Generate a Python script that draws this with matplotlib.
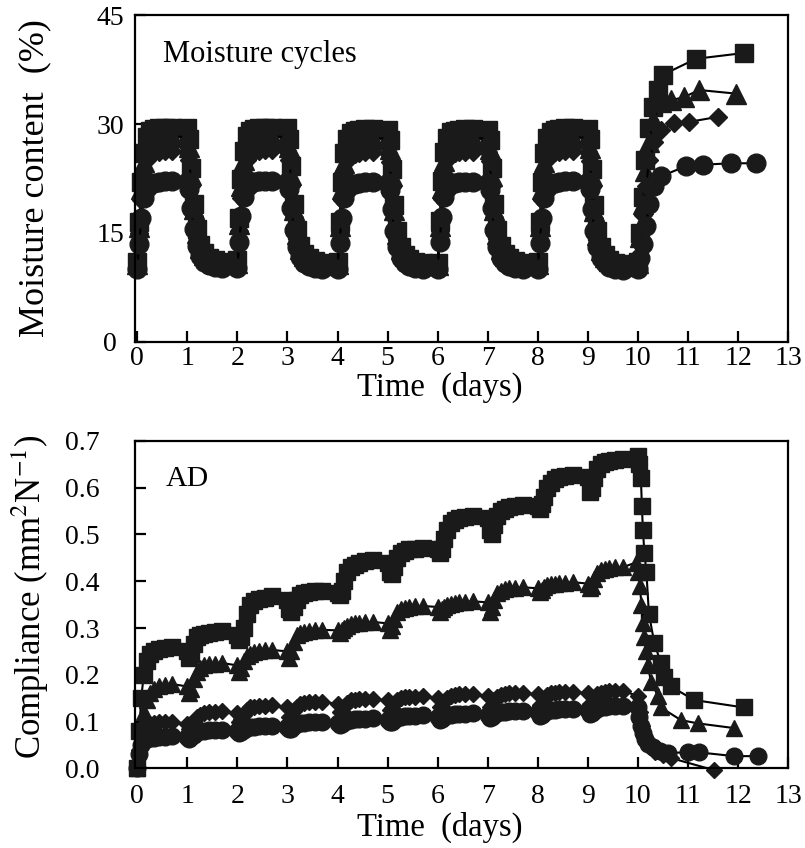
import numpy as np
import matplotlib
matplotlib.use("Agg")
import matplotlib.pyplot as plt
from matplotlib.ticker import FormatStrFormatter

plt.rcParams['font.family'] = ['Liberation Serif', 'DejaVu Serif']
plt.rcParams['mathtext.fontset'] = 'stix'

# ---- data ----------------------------------------------------------------
# sampling offsets inside each day (days 0..9), same for every series
day_offsets = [0.00, 0.04, 0.08, 0.13, 0.19, 0.26, 0.34, 0.43, 0.55, 0.70]
days = [0, 1, 2, 3, 4, 5, 6, 7, 8, 9]

# moisture content (%) per day, one row per day
mc_square = [
    [11.0, 16.5, 22.0, 26.0, 28.2, 29.0, 29.3, 29.4, 29.5, 29.5],
    [29.4, 28.0, 24.0, 19.0, 15.5, 13.3, 12.2, 11.6, 11.2, 11.0],
    [11.2, 17.0, 22.5, 26.3, 28.4, 29.1, 29.3, 29.4, 29.5, 29.5],
    [29.4, 28.0, 24.2, 19.0, 15.4, 13.2, 12.1, 11.5, 11.1, 10.9],
    [11.0, 16.5, 22.0, 26.0, 28.0, 28.8, 29.1, 29.2, 29.3, 29.3],
    [29.2, 27.8, 23.8, 18.8, 15.3, 13.1, 12.0, 11.4, 11.0, 10.8],
    [10.9, 16.6, 22.2, 26.1, 28.1, 28.9, 29.1, 29.2, 29.3, 29.3],
    [29.2, 27.8, 24.0, 19.0, 15.4, 13.2, 12.1, 11.5, 11.1, 10.9],
    [11.0, 16.5, 22.0, 26.0, 28.1, 28.9, 29.2, 29.3, 29.4, 29.4],
    [29.3, 27.9, 23.8, 18.8, 15.2, 13.0, 11.9, 11.3, 10.9, 10.7],
]
mc_triangle = [
    [10.7, 15.8, 21.0, 24.8, 26.9, 27.7, 28.0, 28.2, 28.3, 28.3],
    [28.2, 26.8, 23.0, 18.3, 15.0, 12.9, 11.9, 11.3, 10.9, 10.7],
    [10.9, 16.2, 21.4, 25.1, 27.1, 27.8, 28.1, 28.2, 28.3, 28.3],
    [28.2, 26.8, 23.0, 18.2, 14.9, 12.8, 11.8, 11.2, 10.8, 10.6],
    [10.7, 15.9, 21.0, 24.7, 26.8, 27.6, 27.9, 28.0, 28.1, 28.1],
    [28.0, 26.6, 22.8, 18.1, 14.8, 12.8, 11.8, 11.2, 10.8, 10.6],
    [10.6, 16.0, 21.2, 24.9, 26.9, 27.7, 27.9, 28.0, 28.1, 28.1],
    [28.0, 26.6, 22.9, 18.2, 14.9, 12.8, 11.8, 11.2, 10.8, 10.6],
    [10.7, 15.9, 21.0, 24.8, 26.9, 27.7, 28.0, 28.1, 28.2, 28.2],
    [28.1, 26.7, 22.8, 18.0, 14.7, 12.7, 11.7, 11.1, 10.7, 10.5],
]
mc_diamond = [
    [10.4, 15.0, 19.5, 23.0, 25.0, 25.8, 26.1, 26.2, 26.3, 26.3],
    [26.2, 25.0, 21.5, 17.3, 14.3, 12.4, 11.5, 11.0, 10.7, 10.5],
    [10.6, 15.3, 19.8, 23.2, 25.1, 25.9, 26.2, 26.3, 26.4, 26.4],
    [26.3, 25.0, 21.5, 17.2, 14.2, 12.3, 11.4, 10.9, 10.6, 10.4],
    [10.5, 15.1, 19.6, 23.0, 24.9, 25.7, 25.9, 26.0, 26.1, 26.1],
    [26.0, 24.8, 21.3, 17.1, 14.1, 12.3, 11.4, 10.9, 10.6, 10.4],
    [10.4, 15.2, 19.7, 23.1, 25.0, 25.8, 26.0, 26.1, 26.2, 26.2],
    [26.1, 24.9, 21.4, 17.2, 14.2, 12.3, 11.4, 10.9, 10.6, 10.4],
    [10.5, 15.1, 19.6, 23.0, 25.0, 25.8, 26.1, 26.2, 26.3, 26.3],
    [26.2, 24.9, 21.3, 17.0, 14.0, 12.2, 11.3, 10.8, 10.5, 10.3],
]
mc_circle = [
    [10.0, 13.5, 17.0, 19.8, 21.2, 21.7, 21.9, 22.0, 22.1, 22.1],
    [22.0, 21.0, 18.5, 15.5, 13.2, 11.8, 11.0, 10.6, 10.3, 10.1],
    [10.1, 13.8, 17.3, 20.0, 21.3, 21.8, 22.0, 22.1, 22.1, 22.1],
    [22.0, 21.0, 18.4, 15.4, 13.1, 11.7, 10.9, 10.5, 10.2, 10.0],
    [10.0, 13.6, 17.1, 19.8, 21.1, 21.6, 21.8, 21.9, 22.0, 22.0],
    [21.9, 20.9, 18.3, 15.3, 13.0, 11.6, 10.8, 10.4, 10.1, 10.0],
    [10.0, 13.7, 17.2, 19.9, 21.2, 21.7, 21.9, 22.0, 22.0, 22.0],
    [21.9, 20.9, 18.4, 15.4, 13.1, 11.6, 10.9, 10.4, 10.1, 10.0],
    [10.0, 13.6, 17.1, 19.8, 21.2, 21.7, 21.9, 22.0, 22.1, 22.1],
    [22.0, 21.0, 18.3, 15.3, 13.0, 11.6, 10.8, 10.3, 10.0, 9.9],
]

# last wetting (t >= 10): irregular sampling, per series
mc_tail_t_square = [10.00, 10.05, 10.10, 10.15, 10.22, 10.30, 10.40, 10.50, 11.16, 12.12]
mc_tail_square = [11.0, 15.0, 20.0, 25.0, 29.5, 32.3, 34.7, 36.8, 39.0, 39.8]
mc_tail_t_triangle = [10.00, 10.05, 10.10, 10.15, 10.22, 10.30, 10.46, 10.66, 10.92, 11.22, 11.96]
mc_tail_triangle = [10.8, 14.5, 19.0, 23.5, 27.5, 30.5, 33.0, 33.3, 33.7, 34.7, 34.2]
mc_tail_t_diamond = [10.00, 10.05, 10.10, 10.16, 10.23, 10.32, 10.46, 10.72, 11.02, 11.60]
mc_tail_diamond = [10.6, 13.5, 17.5, 21.5, 25.0, 27.5, 29.2, 30.1, 30.3, 31.0]
mc_tail_t_circle = [10.00, 10.05, 10.10, 10.16, 10.23, 10.32, 10.46, 10.96, 11.30, 11.86, 12.36]
mc_tail_circle = [10.0, 11.5, 13.5, 16.0, 19.0, 21.5, 22.8, 24.2, 24.4, 24.6, 24.6]

# compliance (mm2/N) per day
cp_square = [
    [0.000, 0.080, 0.150, 0.200, 0.230, 0.245, 0.250, 0.255, 0.258, 0.260],
    [0.250, 0.235, 0.245, 0.265, 0.280, 0.285, 0.288, 0.290, 0.292, 0.293],
    [0.285, 0.275, 0.280, 0.300, 0.330, 0.350, 0.358, 0.362, 0.365, 0.368],
    [0.360, 0.340, 0.335, 0.345, 0.360, 0.370, 0.375, 0.378, 0.380, 0.380],
    [0.375, 0.370, 0.380, 0.400, 0.420, 0.430, 0.435, 0.440, 0.443, 0.445],
    [0.440, 0.420, 0.415, 0.430, 0.450, 0.460, 0.465, 0.468, 0.470, 0.472],
    [0.470, 0.460, 0.470, 0.490, 0.510, 0.525, 0.530, 0.535, 0.537, 0.540],
    [0.535, 0.510, 0.500, 0.520, 0.540, 0.550, 0.555, 0.558, 0.560, 0.562],
    [0.560, 0.555, 0.565, 0.580, 0.600, 0.610, 0.618, 0.622, 0.625, 0.627],
    [0.622, 0.590, 0.600, 0.620, 0.640, 0.650, 0.655, 0.658, 0.660, 0.662],
]
cp_triangle = [
    [0.000, 0.050, 0.090, 0.120, 0.145, 0.160, 0.170, 0.175, 0.178, 0.180],
    [0.175, 0.160, 0.170, 0.190, 0.205, 0.215, 0.220, 0.222, 0.224, 0.225],
    [0.220, 0.205, 0.215, 0.230, 0.240, 0.245, 0.248, 0.250, 0.252, 0.253],
    [0.250, 0.235, 0.250, 0.270, 0.285, 0.290, 0.292, 0.294, 0.295, 0.296],
    [0.295, 0.290, 0.295, 0.300, 0.305, 0.308, 0.310, 0.310, 0.312, 0.313],
    [0.310, 0.295, 0.305, 0.320, 0.335, 0.340, 0.343, 0.345, 0.346, 0.347],
    [0.345, 0.335, 0.340, 0.345, 0.350, 0.352, 0.354, 0.355, 0.356, 0.357],
    [0.355, 0.335, 0.345, 0.360, 0.375, 0.380, 0.383, 0.385, 0.386, 0.387],
    [0.385, 0.378, 0.382, 0.388, 0.392, 0.394, 0.395, 0.396, 0.397, 0.398],
    [0.395, 0.385, 0.390, 0.405, 0.418, 0.424, 0.427, 0.429, 0.430, 0.430],
]
cp_diamond = [
    [0.000, 0.040, 0.070, 0.085, 0.092, 0.095, 0.097, 0.098, 0.099, 0.100],
    [0.095, 0.085, 0.090, 0.100, 0.110, 0.115, 0.118, 0.120, 0.121, 0.122],
    [0.118, 0.100, 0.105, 0.115, 0.125, 0.130, 0.132, 0.133, 0.134, 0.135],
    [0.130, 0.110, 0.112, 0.122, 0.132, 0.138, 0.140, 0.141, 0.142, 0.142],
    [0.138, 0.120, 0.122, 0.132, 0.140, 0.145, 0.147, 0.148, 0.148, 0.149],
    [0.145, 0.125, 0.128, 0.138, 0.146, 0.150, 0.152, 0.153, 0.153, 0.154],
    [0.150, 0.130, 0.132, 0.142, 0.150, 0.155, 0.157, 0.158, 0.158, 0.159],
    [0.155, 0.132, 0.135, 0.145, 0.153, 0.157, 0.159, 0.160, 0.160, 0.161],
    [0.158, 0.135, 0.138, 0.148, 0.156, 0.160, 0.162, 0.163, 0.163, 0.164],
    [0.160, 0.138, 0.140, 0.150, 0.158, 0.162, 0.164, 0.165, 0.165, 0.165],
]
cp_circle = [
    [0.000, 0.030, 0.050, 0.058, 0.062, 0.064, 0.065, 0.066, 0.067, 0.068],
    [0.066, 0.062, 0.066, 0.072, 0.077, 0.079, 0.080, 0.081, 0.081, 0.082],
    [0.080, 0.075, 0.077, 0.082, 0.086, 0.088, 0.089, 0.090, 0.090, 0.091],
    [0.089, 0.083, 0.085, 0.090, 0.094, 0.096, 0.097, 0.098, 0.098, 0.099],
    [0.097, 0.092, 0.094, 0.098, 0.102, 0.104, 0.105, 0.106, 0.106, 0.107],
    [0.104, 0.098, 0.100, 0.104, 0.108, 0.110, 0.111, 0.112, 0.112, 0.113],
    [0.110, 0.103, 0.105, 0.109, 0.113, 0.115, 0.116, 0.117, 0.117, 0.118],
    [0.115, 0.108, 0.110, 0.114, 0.118, 0.120, 0.121, 0.122, 0.122, 0.123],
    [0.120, 0.112, 0.114, 0.118, 0.122, 0.124, 0.125, 0.126, 0.126, 0.127],
    [0.124, 0.116, 0.118, 0.122, 0.127, 0.130, 0.132, 0.133, 0.134, 0.134],
]

cp_tail_t_square = [10.00, 10.03, 10.06, 10.08, 10.10, 10.13, 10.17, 10.22, 10.33, 10.46, 10.52, 10.66, 11.12, 12.12]
cp_tail_square = [0.668, 0.650, 0.620, 0.560, 0.510, 0.460, 0.420, 0.330, 0.267, 0.225, 0.195, 0.175, 0.146, 0.130]
cp_tail_t_triangle = [9.96, 10.00, 10.04, 10.07, 10.10, 10.13, 10.16, 10.20, 10.26, 10.40, 10.46, 10.86, 11.20, 11.92]
cp_tail_triangle = [0.440, 0.420, 0.390, 0.350, 0.310, 0.280, 0.250, 0.220, 0.185, 0.155, 0.130, 0.103, 0.096, 0.086]
cp_tail_t_diamond = [10.00, 10.04, 10.08, 10.12, 10.17, 10.25, 10.35, 10.50, 10.66, 11.52]
cp_tail_diamond = [0.155, 0.120, 0.090, 0.070, 0.055, 0.045, 0.035, 0.028, 0.022, -0.004]
cp_tail_t_circle = [10.00, 10.03, 10.06, 10.10, 10.15, 10.20, 10.30, 10.45, 10.60, 11.00, 11.22, 11.92, 12.40]
cp_tail_circle = [0.130, 0.110, 0.090, 0.075, 0.062, 0.053, 0.045, 0.038, 0.033, 0.034, 0.034, 0.026, 0.026]


def series(rows, tail_t, tail_v):
    t = [d + o for d in days for o in day_offsets] + list(tail_t)
    v = [x for row in rows for x in row] + list(tail_v)
    return np.array(t), np.array(v)


def style_axes(ax, xpad, ypad):
    for s in ax.spines.values():
        s.set_linewidth(1.6)
    ax.tick_params(direction='in', length=8, width=1.6, top=False, right=False)
    ax.tick_params(axis='x', labelsize=20, pad=xpad)
    ax.tick_params(axis='y', labelsize=20, pad=ypad)
    ax.set_xlim(-0.04, 13)
    ax.set_xticks(range(0, 14))


fig = plt.figure(figsize=(8.05, 8.48), dpi=100)
ax1 = fig.add_axes([0.168, 0.597, 0.811, 0.385])
ax2 = fig.add_axes([0.168, 0.094, 0.811, 0.386])

top = [
    (mc_square, mc_tail_t_square, mc_tail_square, 's', 12.5),
    (mc_triangle, mc_tail_t_triangle, mc_tail_triangle, '^', 14),
    (mc_diamond, mc_tail_t_diamond, mc_tail_diamond, 'D', 9.5),
    (mc_circle, mc_tail_t_circle, mc_tail_circle, 'o', 13.5),
]
for rows, tt, tv, mk, ms in top:
    t, v = series(rows, tt, tv)
    ax1.plot(t, v, '-', color='black', lw=1.5, marker=mk, ms=ms,
             mfc='#1a1a1a', mec='#1a1a1a', clip_on=False)

bottom = [
    (cp_square, cp_tail_t_square, cp_tail_square, 's', 11),
    (cp_triangle, cp_tail_t_triangle, cp_tail_triangle, '^', 12),
    (cp_diamond, cp_tail_t_diamond, cp_tail_diamond, 'D', 8),
    (cp_circle, cp_tail_t_circle, cp_tail_circle, 'o', 12),
]
for rows, tt, tv, mk, ms in bottom:
    t, v = series(rows, tt, tv)
    ax2.plot(t, v, '-', color='black', lw=1.5, marker=mk, ms=ms,
             mfc='#1a1a1a', mec='#1a1a1a', clip_on=False)

# top panel
style_axes(ax1, xpad=3, ypad=18)
ax1.set_ylim(0, 45)
ax1.set_yticks([0, 15, 30, 45])
plt.setp(ax1.get_yticklabels(), ha='center')
ax1.set_xlabel('Time  (days)', fontsize=23.5)
ax1.xaxis.set_label_coords(0.466, -0.092)
ax1.set_ylabel('Moisture content  (%)', fontsize=26)
ax1.yaxis.set_label_coords(-0.128, 0.5)
ax1.text(0.043, 0.925, 'Moisture cycles', transform=ax1.transAxes,
         fontsize=22, va='top', ha='left')

# bottom panel
style_axes(ax2, xpad=11, ypad=26)
ax2.set_ylim(0, 0.7)
ax2.set_yticks(np.arange(0, 0.71, 0.1))
ax2.yaxis.set_major_formatter(FormatStrFormatter('%.1f'))
ax2.set_xlabel('Time  (days)', fontsize=23.5)
ax2.xaxis.set_label_coords(0.466, -0.132)
ax2.set_ylabel('Compliance (mm$^2$N$^{-1}$)', fontsize=25)
ax2.yaxis.set_label_coords(-0.129, 0.523)
ax2.text(0.046, 0.925, 'AD', transform=ax2.transAxes,
         fontsize=21.5, va='top', ha='left')

fig.savefig('out.png', dpi=100)
